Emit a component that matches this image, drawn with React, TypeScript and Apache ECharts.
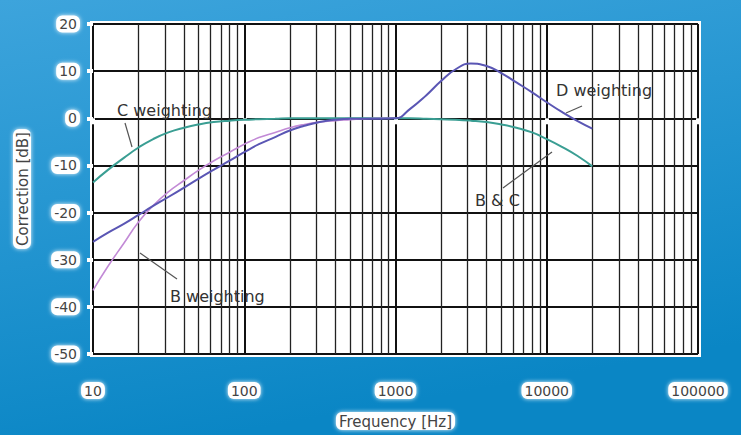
import React, { useEffect, useRef } from "react";
import * as echarts from "echarts";

const freqs = [10, 12.5, 16, 20, 25, 31.5, 40, 50, 63, 80, 100, 125, 160, 200, 250, 315, 400, 500, 630, 800, 1000, 1250, 1600, 2000, 2500, 3150, 4000, 5000, 6300, 8000, 10000, 12500, 16000, 20000];
const cWeighting = [-13.6, -11.0, -8.4, -6.2, -4.4, -3.0, -2.0, -1.3, -0.8, -0.5, -0.3, -0.2, -0.1, 0, 0, 0, 0, 0, 0, 0, 0, 0, -0.1, -0.2, -0.3, -0.5, -0.8, -1.3, -2.0, -3.0, -4.4, -6.0, -8.0, -10.2];
const bWeighting = [-36.5, -31.5, -26.5, -22.0, -18.5, -15.6, -13.2, -11.0, -9.0, -7.2, -5.5, -4.1, -3.0, -2.0, -1.3, -0.8, -0.5, -0.3, -0.1, 0, 0];
const dWeighting = [-26.2, -24.3, -22.4, -20.5, -18.6, -16.7, -14.7, -12.8, -10.9, -9.0, -7.2, -5.5, -4.0, -2.6, -1.6, -0.8, -0.3, -0.1, -0.1, -0.1, 0, 2.0, 4.9, 7.9, 10.4, 11.6, 11.1, 9.6, 7.6, 5.5, 3.4, 1.4, -0.6, -2.2];
const minorFreqs = [20, 30, 40, 50, 60, 70, 80, 90, 200, 300, 400, 500, 600, 700, 800, 900, 2000, 3000, 4000, 5000, 6000, 7000, 8000, 9000, 20000, 30000, 40000, 50000, 60000, 70000, 80000, 90000];

const FONT = "DejaVu Sans, Verdana, sans-serif";
const halo = {
  color: "#444", fontFamily: FONT, fontSize: 14,
  backgroundColor: "#fff", borderRadius: 6, padding: [2, 3, 1, 3],
  shadowColor: "rgba(255,255,255,0.9)", shadowBlur: 4,
};

export default function App() {
  const ref = useRef<HTMLDivElement>(null);
  useEffect(() => {
    const chart = echarts.init(ref.current!, null, { renderer: "svg" });
    const pairs = (ys: number[]) => ys.map((y, i) => [freqs[i], y]);
    const annText = (text: string, x: number, y: number) => ({
      type: "text", x, y, z: 100,
      style: { text, fill: "#333", font: `16px ${FONT}`, textVerticalAlign: "middle" },
    });
    const annLine = (x1: number, y1: number, x2: number, y2: number) => ({
      type: "line", z: 100, shape: { x1, y1, x2, y2 }, style: { stroke: "#555", lineWidth: 1.2 },
    });
    chart.setOption({
      animation: false,
      backgroundColor: {
        type: "linear", x: 0, y: 0, x2: 0.3, y2: 1,
        colorStops: [{ offset: 0, color: "#3da4dc" }, { offset: 1, color: "#0a86c5" }],
      },
      grid: { left: 93, right: 43, top: 24, bottom: 73, show: true, backgroundColor: "#fff", borderColor: "#fff", borderWidth: 6 },
      xAxis: {
        type: "log", logBase: 10, min: 10, max: 100000,
        name: "Frequency [Hz]", nameLocation: "middle", nameGap: 58,
        nameTextStyle: { ...halo, fontSize: 15 },
        axisLine: { show: false },
        axisTick: { show: true, lineStyle: { color: "#fff", width: 4 }, length: 6 },
        axisLabel: { ...halo, margin: 28, formatter: (v: number) => String(Math.round(v)) },
        splitLine: { show: true, lineStyle: { color: "#111", width: 2 } },
      },
      yAxis: {
        type: "value", min: -50, max: 20, interval: 10,
        name: "Correction [dB]", nameLocation: "middle", nameGap: 62, nameRotate: 90,
        nameTextStyle: { ...halo, fontSize: 15 },
        axisLine: { show: false },
        axisTick: { show: true, lineStyle: { color: "#fff", width: 4 }, length: 6 },
        axisLabel: { ...halo, margin: 13 },
        splitLine: { show: true, lineStyle: { color: "#111", width: 2 } },
      },
      series: [
        {
          type: "line", data: [], silent: true, symbol: "none",
          markLine: {
            silent: true, symbol: ["none", "none"], label: { show: false },
            lineStyle: { color: "#222", width: 1.3, type: "solid" },
            data: minorFreqs.map((f) => ({ xAxis: f })),
          },
        },
        { name: "C weighting", type: "line", data: pairs(cWeighting), symbol: "none", smooth: true, lineStyle: { color: "#3a9e93", width: 2 }, z: 5 },
        { name: "B weighting", type: "line", data: pairs(bWeighting), symbol: "none", smooth: true, lineStyle: { color: "#c28ad6", width: 1.6 }, z: 6 },
        { name: "D weighting", type: "line", data: pairs(dWeighting), symbol: "none", smooth: true, lineStyle: { color: "#5a56b4", width: 2 }, z: 7 },
      ],
      graphic: [
        annText("C weighting", 117, 110),
        annLine(125, 123, 132, 147),
        annText("D weighting", 556, 90),
        annLine(582, 106, 566, 113),
        annText("B & C", 475, 200),
        annLine(503, 188, 552, 152),
        annText("B weighting", 170, 296),
        annLine(140, 253, 177, 279),
      ],
    });
    return () => chart.dispose();
  }, []);
  return <div ref={ref} style={{ width: 741, height: 435, position: "absolute", left: 0, top: 0 }} />;
}
